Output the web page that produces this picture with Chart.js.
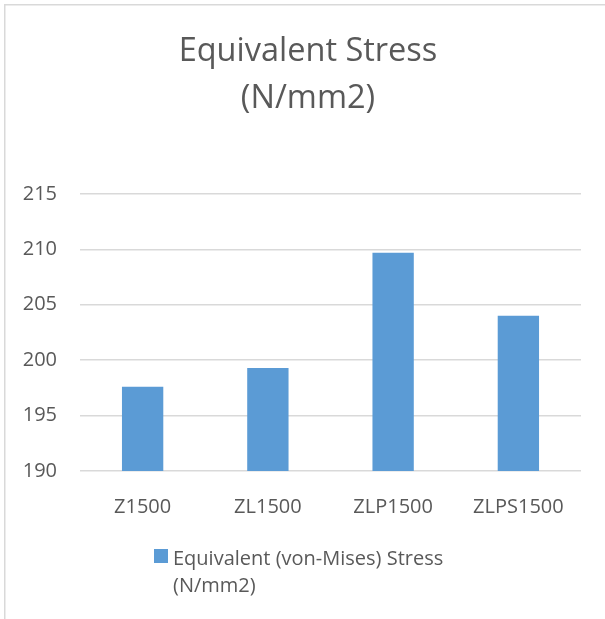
<!DOCTYPE html>
<html>
<head>
<meta charset="utf-8">
<script src="https://cdn.jsdelivr.net/npm/chart.js@4/dist/chart.umd.min.js"></script>
<style>
  html, body { margin: 0; padding: 0; background: #fff; }
  #wrap { width: 605px; height: 619px; position: relative; }
</style>
</head>
<body>
<div id="wrap"><canvas id="chart" width="605" height="619"></canvas></div>
<script>
const titleLines = ["Equivalent Stress", "(N/mm2)"];
const categories = ["Z1500", "ZL1500", "ZLP1500", "ZLPS1500"];
const seriesLabel = "Equivalent (von-Mises) Stress (N/mm2)";
const stressValues = [197.6, 199.3, 209.7, 204.0];
const yMin = 190;
const yMax = 215;
const yStep = 5;

const TEXT = "#595959";
const GRID = "#d9d9d9";
const BAR = "#5b9bd5";
const FONT = "'Open Sans', 'Noto Sans', sans-serif";

// frame around the chart (only top and left edges show in the crop)
const framePlugin = {
  id: "frame",
  afterLayout(chart) {
    // original title is centred a bit right of the plot centre
    if (chart.titleBlock) chart.titleBlock.left = 35;
  },
  beforeDraw(chart) {
    const ctx = chart.ctx;
    ctx.save();
    ctx.fillStyle = "#fff";
    ctx.fillRect(0, 0, chart.width, chart.height);
    ctx.strokeStyle = GRID;
    ctx.lineWidth = 1.5;
    ctx.beginPath();
    ctx.moveTo(4.75, chart.height);
    ctx.lineTo(4.75, 4.75);
    ctx.lineTo(chart.width, 4.75);
    ctx.stroke();
    ctx.restore();
  },
};

// legend below the axis, with the label wrapped like the original
const wrapLegend = {
  id: "wrapLegend",
  afterDraw(chart) {
    const ctx = chart.ctx;
    const ds = chart.data.datasets[0];
    ctx.save();
    ctx.font = "20px " + FONT;
    const words = ds.label.split(" ");
    const lines = [];
    let cur = "";
    words.forEach((w) => {
      const test = cur ? cur + " " + w : w;
      if (ctx.measureText(test).width > 300 && cur) {
        lines.push(cur);
        cur = w;
      } else cur = test;
    });
    if (cur) lines.push(cur);

    const boxX = 154, boxY = 549, box = 14;
    ctx.fillStyle = ds.backgroundColor;
    ctx.fillRect(boxX, boxY, box, box);
    ctx.fillStyle = TEXT;
    ctx.textBaseline = "middle";
    ctx.textAlign = "left";
    lines.forEach((ln, i) => ctx.fillText(ln, 173, 559 + i * 27));
    ctx.restore();
  },
};

new Chart(document.getElementById("chart"), {
  type: "bar",
  data: {
    labels: categories,
    datasets: [
      {
        label: seriesLabel,
        data: stressValues,
        backgroundColor: BAR,
        borderWidth: 0,
        categoryPercentage: 1,
        barPercentage: 0.33,
      },
    ],
  },
  options: {
    responsive: false,
    animation: false,
    layout: { padding: { top: 0, left: 0, right: 24, bottom: 88 } },
    plugins: {
      legend: { display: false },
      tooltip: { enabled: false },
      title: {
        display: true,
        text: titleLines,
        color: TEXT,
        font: { family: FONT, size: 32.5, weight: "normal", lineHeight: 1.446 },
        padding: { top: 28.5, bottom: 71.5 },
      },
    },
    scales: {
      x: {
        grid: { display: false },
        border: { display: false },
        ticks: {
          color: TEXT,
          font: { family: FONT, size: 20 },
          padding: 16,
          maxRotation: 0,
        },
        afterFit(scale) {
          scale.height = 60;
        },
      },
      y: {
        min: yMin,
        max: yMax,
        border: { display: false },
        grid: { color: GRID, lineWidth: 1.5, drawTicks: false },
        ticks: {
          stepSize: yStep,
          color: TEXT,
          font: { family: FONT, size: 20 },
          padding: 23,
        },
        afterFit(scale) {
          scale.width = 80;
        },
      },
    },
  },
  plugins: [framePlugin, wrapLegend],
});
</script>
</body>
</html>
